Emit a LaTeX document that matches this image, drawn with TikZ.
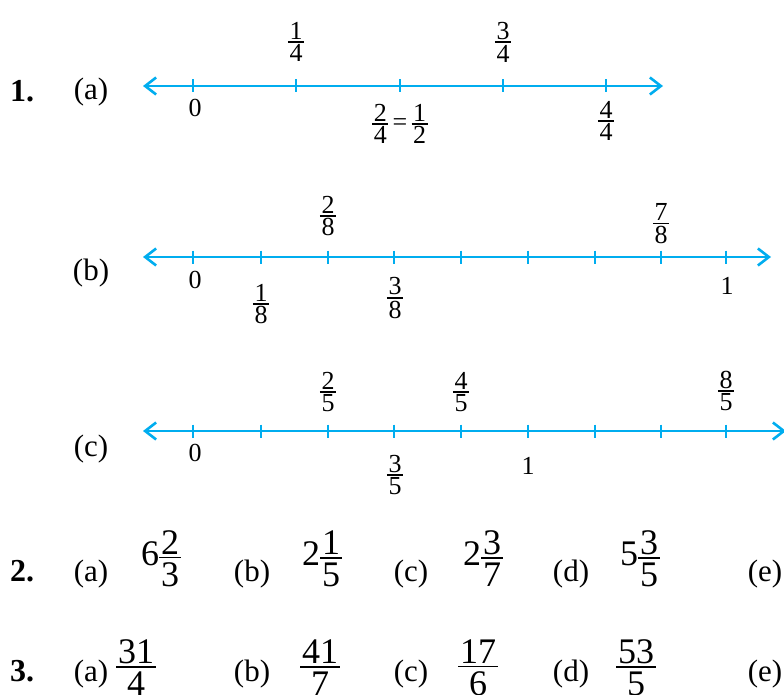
\documentclass[tikz,border=0pt]{standalone}
\usepackage{fontspec}
\setmainfont{Liberation Serif}
\usetikzlibrary{arrows.meta}
\definecolor{axisblue}{RGB}{0,173,239}
\newcommand{\fr}[2]{\ensuremath{\vcenter{\offinterlineskip\halign{\hfil\kern0.06em##\kern0.06em\hfil\cr #1\cr\noalign{\kern0.07em\hrule height0.065em\kern0.08em}#2\cr}}}}
\newcommand{\bfr}[2]{\ensuremath{\vcenter{\offinterlineskip\halign{\hfil\kern0.05em##\kern0.05em\hfil\cr #1\cr\noalign{\kern0.06em\hrule height0.05em\kern0.12em}#2\cr}}}}
\tikzset{
  axisline/.style={axisblue, line width=2.6pt, {Straight Barb[length=11pt,width=17pt]}-{Straight Barb[length=11pt,width=17pt]}},
  tickmark/.style={axisblue, line width=2pt},
  lab/.style={inner sep=0pt, font=\fontsize{26}{30}\selectfont},
  itemlab/.style={inner sep=0pt, anchor=base, font=\fontsize{31}{36}\selectfont},
  numlab/.style={inner sep=0pt, anchor=base, font=\fontsize{32}{36}\selectfont\bfseries},
  bignum/.style={inner sep=0pt, font=\fontsize{36}{40}\selectfont},
}
\begin{document}
\begin{tikzpicture}[x=1pt,y=-1pt]
\useasboundingbox (0,0) rectangle (784,695);
% ---------- 1 (a)
\node[numlab] (n1) at (22,102) {1.};
\node[itemlab] (la) at (91,100) {(a)};
\coordinate (aL) at (143,86);
\coordinate (aR) at (663,86);
\draw[axisline] (aL) -- (aR);
\foreach \x in {193,296,400,503,606} \draw[tickmark] (\x,79.5) -- ++(0,13);
\node[lab] (a0) at (195,108) {0};
\node[lab] (a1) at (296,42) {\fr{1}{4}};
\node[lab] (a3) at (503,42) {\fr{3}{4}};
\node[lab] (a2) at (400,124) {\fr{2}{4}\,=\,\fr{1}{2}};
\node[lab] (a4) at (606,121) {\fr{4}{4}};
% ---------- (b)
\node[itemlab] (lb) at (91,280) {(b)};
\coordinate (bL) at (143,257);
\coordinate (bR) at (771,257);
\draw[axisline] (bL) -- (bR);
\foreach \x in {193,261,328,394,461,528,595,661,726} \draw[tickmark] (\x,250.5) -- ++(0,13);
\node[lab] (b0) at (195,280) {0};
\node[lab] (b1) at (261,304) {\fr{1}{8}};
\node[lab] (b2) at (328,216) {\fr{2}{8}};
\node[lab] (b3) at (395,298) {\fr{3}{8}};
\node[lab] (b7) at (661,224) {\fr{7}{8}};
\node[lab] (b8) at (727,286) {1};
% ---------- (c)
\node[itemlab] (lc) at (91,456) {(c)};
\coordinate (cL) at (143,431);
\coordinate (cR) at (786,431);
\draw[axisline] (cL) -- (cR);
\foreach \x in {193,261,328,394,461,528,595,661,726} \draw[tickmark] (\x,424.5) -- ++(0,13);
\node[lab] (c0) at (195,453) {0};
\node[lab] (c2) at (328,392) {\fr{2}{5}};
\node[lab] (c4) at (461,392) {\fr{4}{5}};
\node[lab] (c8) at (726,391) {\fr{8}{5}};
\node[lab] (c3) at (395,475) {\fr{3}{5}};
\node[lab] (c5) at (528,466) {1};
% ---------- 2
\node[numlab] (n2) at (22,581) {2.};
\node[itemlab] (l2a) at (91,581) {(a)};
\node[itemlab] (l2b) at (252,581) {(b)};
\node[itemlab] (l2c) at (411,581) {(c)};
\node[itemlab] (l2d) at (571,581) {(d)};
\node[itemlab] (l2e) at (765,581) {(e)};
\node[bignum, anchor=base west] (m2a) at (141,565) {6\bfr{2}{3}};
\node[bignum, anchor=base west] (m2b) at (302,565) {2\bfr{1}{5}};
\node[bignum, anchor=base west] (m2c) at (463,565) {2\bfr{3}{7}};
\node[bignum, anchor=base west] (m2d) at (620,565) {5\bfr{3}{5}};
% ---------- 3
\node[numlab] (n3) at (22,681) {3.};
\node[itemlab] (l3a) at (91,681) {(a)};
\node[itemlab] (l3b) at (252,681) {(b)};
\node[itemlab] (l3c) at (411,681) {(c)};
\node[itemlab] (l3d) at (571,681) {(d)};
\node[itemlab] (l3e) at (765,681) {(e)};
\node[bignum, anchor=base] (f3a) at (136,674) {\bfr{31}{4}};
\node[bignum, anchor=base] (f3b) at (320,674) {\bfr{41}{7}};
\node[bignum, anchor=base] (f3c) at (478,674) {\bfr{17}{6}};
\node[bignum, anchor=base] (f3d) at (636,674) {\bfr{53}{5}};
\end{tikzpicture}
\end{document}
